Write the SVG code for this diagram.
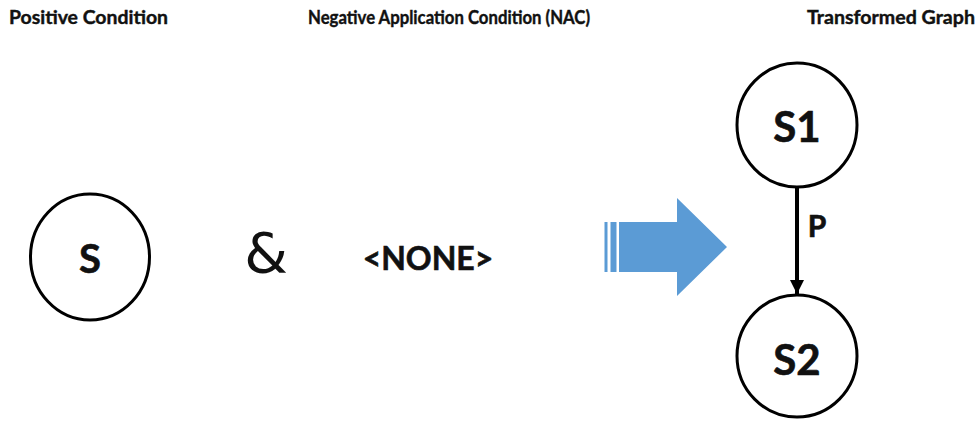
<svg xmlns="http://www.w3.org/2000/svg" width="979" height="423" viewBox="0 0 979 423">
<style>
.title{font-family:Lato,"Open Sans",sans-serif;font-weight:bold;font-size:18.5px;fill:#111;stroke:#111;stroke-width:0.4}
.node{fill:#fff;stroke:#000;stroke-width:3}
.lbl{font-family:Lato,"Open Sans",sans-serif;font-weight:bold;fill:#111;stroke:#111;stroke-width:0.6;text-anchor:middle}
</style>
<defs>
<marker id="ah" markerWidth="14" markerHeight="14" refX="14" refY="7" orient="auto" markerUnits="userSpaceOnUse" viewBox="0 0 14 14">
<path d="M0,0 L14,7 L0,14 Z" fill="#000"/>
</marker>
</defs>
<rect width="979" height="423" fill="#fff"/>
<text class="title" x="9" y="24" textLength="159" lengthAdjust="spacingAndGlyphs">Positive Condition</text>
<text class="title" x="308" y="24" textLength="282" lengthAdjust="spacingAndGlyphs">Negative Application Condition (NAC)</text>
<text class="title" x="807" y="24" textLength="168" lengthAdjust="spacingAndGlyphs">Transformed Graph</text>
<g id="node-S">
<ellipse class="node" cx="90" cy="257" rx="59.5" ry="63"/>
<text class="lbl" x="90" y="273" font-size="40">S</text>
</g>
<g id="amp">
<text x="266" y="272" font-family="'DejaVu Sans',sans-serif" font-size="56" text-anchor="middle" fill="#111">&amp;</text>
</g>
<g id="none">
<text class="lbl" x="428" y="270" font-size="32">&lt;NONE&gt;</text>
</g>
<g id="bigarrow" fill="#5b9bd5">
<rect x="604.5" y="222" width="3" height="50"/>
<rect x="610.5" y="222" width="6" height="50"/>
<path d="M619,222 L677,222 L677,198 L727,247 L677,296 L677,272 L619,272 Z"/>
</g>
<g id="node-S1">
<ellipse class="node" cx="797" cy="125" rx="60" ry="62"/>
<text class="lbl" x="797" y="142" font-size="42">S1</text>
</g>
<g id="node-S2">
<ellipse class="node" cx="797" cy="356" rx="60" ry="61"/>
<text class="lbl" x="797" y="375" font-size="42">S2</text>
</g>
<g id="connectors">
<path d="M797,187 L797,294" stroke="#000" stroke-width="4" fill="none" marker-end="url(#ah)"/>
<text class="lbl" x="817" y="237" font-size="30">P</text>
</g>
</svg>
